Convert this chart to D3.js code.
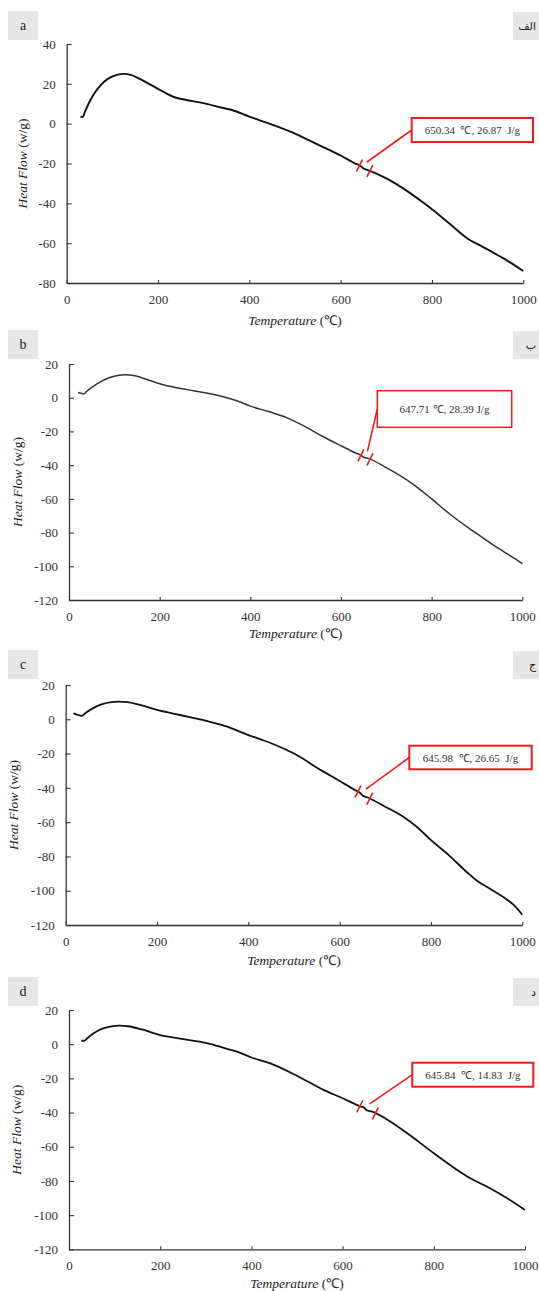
<!DOCTYPE html>
<html>
<head>
<meta charset="utf-8">
<script src="https://cdn.jsdelivr.net/npm/d3@7"></script>
<style>
  body { margin: 0; background: #fff; }
  svg { display: block; }
</style>
</head>
<body>
<svg id="chart" width="539" height="1291"></svg>
<script>
// ---- data ----
const tempA = [30, 35, 40, 50, 60, 75, 90, 110, 125, 140, 160, 180, 200, 220, 240, 260, 300, 340, 360, 400, 450, 500, 550, 600, 630, 645, 650, 660, 700, 740, 780, 800, 840, 880, 900, 940, 970, 1000];
const heatA = [3.5, 3.3, 6, 11, 15, 19.5, 22.5, 24.5, 25, 24.5, 22.5, 20, 17.5, 15, 13, 12, 10.3, 8, 7, 3.5, -0.5, -5, -10.5, -16, -19.8, -21.5, -22.5, -23.3, -27.5, -33, -39.5, -43, -50.5, -58, -60.5, -65.5, -69.5, -74];

const tempB = [20, 27, 32, 40, 55, 70, 90, 110, 125, 145, 170, 200, 230, 260, 300, 340, 370, 400, 440, 480, 520, 560, 600, 630, 645, 650, 660, 700, 760, 800, 840, 885, 910, 945, 975, 1000];
const heatB = [3.1, 2.6, 2.2, 4, 7, 9.5, 12, 13.3, 13.6, 13, 11, 8.3, 6.3, 4.8, 3, 0.6, -1.8, -5, -8.2, -11.8, -17, -23, -28.5, -32.5, -34.3, -35.3, -36, -41.5, -51.5, -60, -69, -78, -82.5, -89, -94, -98.5];

const tempC = [17, 25, 35, 45, 60, 80, 100, 115, 135, 160, 200, 250, 300, 350, 400, 430, 450, 500, 560, 600, 635, 645, 650, 660, 700, 740, 770, 800, 840, 880, 900, 930, 960, 980, 1000];
const heatC = [3.5, 2.7, 2, 4, 6.5, 8.8, 10, 10.3, 10, 8.5, 5.5, 2.5, -0.4, -4, -9.2, -12, -14, -20, -29.8, -36, -41.5, -43, -44.5, -45.5, -51, -57, -63, -70.5, -79.5, -89.5, -94, -99, -104, -108, -114];

const tempD = [27, 33, 40, 55, 70, 90, 110, 130, 160, 200, 250, 300, 350, 370, 400, 440, 500, 558, 600, 638, 648, 652, 665, 700, 741, 800, 840, 880, 916, 960, 1000];
const heatD = [2.1, 2, 3.5, 6.5, 8.8, 10.3, 10.9, 10.5, 8.6, 5.3, 3, 0.8, -3, -4.5, -7.8, -11.1, -18.5, -26.7, -31.6, -36.3, -37.3, -38.5, -39.5, -44.5, -52, -63.8, -71.5, -78.4, -83.3, -90, -97];

const xTicks = [0, 200, 400, 600, 800, 1000];
const yTicksA = [-80, -60, -40, -20, 0, 20, 40];
const yTicksBCD = [-120, -100, -80, -60, -40, -20, 0, 20];

const panelLetters = ["a", "b", "c", "d"];
const panelArabic = ["الف", "ب", "ج", "د"];
const annotationText = ["650.34  ℃, 26.87  J/g", "647.71 ℃, 28.39 J/g", "645.98  ℃, 26.65  J/g", "645.84  ℃, 14.83  J/g"];
const slashTemps = [[641, 664], [644, 664], [640, 666], [638, 672]];

// ---- layout ----
const serif = '"Liberation Serif", "Times New Roman", serif';
const panels = [
  {temp: tempA, heat: heatA, yTicks: yTicksA, left: 66.7, right: 523.3, top: 44, bottom: 283,
   box: {x: 411.7, y: 118, w: 121.3, h: 24}, tag: {y: 11}, yTitleX: 27, xTitleDy: 42, stroke: "#111", sw: 1.9, boxSw: 2},
  {temp: tempB, heat: heatB, yTicks: yTicksBCD, left: 69, right: 522.3, top: 364, bottom: 600,
   box: {x: 377.3, y: 390.7, w: 134.4, h: 36.6}, tag: {y: 330}, yTitleX: 22, xTitleDy: 38, stroke: "#333", sw: 1.5, boxSw: 1.5},
  {temp: tempC, heat: heatC, yTicks: yTicksBCD, left: 65.7, right: 522.3, top: 685, bottom: 925,
   box: {x: 409.3, y: 745.7, w: 122.4, h: 23.6}, tag: {y: 650}, yTitleX: 18, xTitleDy: 40, stroke: "#111", sw: 1.8, boxSw: 2},
  {temp: tempD, heat: heatD, yTicks: yTicksBCD, left: 69, right: 525, top: 1010, bottom: 1249.3,
   box: {x: 412.3, y: 1062.7, w: 121, h: 24}, tag: {y: 977}, yTitleX: 21, xTitleDy: 39, stroke: "#111", sw: 1.8, boxSw: 2}
];

const svg = d3.select("#chart");
const red = "#f01c1c";

panels.forEach((p, i) => {
  const x = d3.scaleLinear().domain([0, 1000]).range([p.left, p.right]);
  const y = d3.scaleLinear().domain([d3.min(p.yTicks), d3.max(p.yTicks)]).range([p.bottom, p.top]);
  const g = svg.append("g");

  // panel tags
  g.append("rect").attr("x", 8).attr("y", p.tag.y).attr("width", 30).attr("height", 29).attr("fill", "#e7e7e7");
  g.append("text").attr("x", 23).attr("y", p.tag.y + 19).attr("text-anchor", "middle")
    .style("font-family", serif).attr("font-size", 14).attr("fill", "#222").text(panelLetters[i]);
  g.append("rect").attr("x", 513).attr("y", p.tag.y + 1).attr("width", 30).attr("height", 28).attr("fill", "#e7e7e7");
  g.append("text").attr("x", 536).attr("y", p.tag.y + 19).attr("text-anchor", "end")
    .style("font-family", '"DejaVu Sans", sans-serif').attr("font-size", 11).attr("fill", "#222")
    .text(panelArabic[i]);

  // axes
  const xAxis = d3.axisBottom(x).tickValues(xTicks).tickSizeInner(-3).tickSizeOuter(0).tickPadding(9).tickFormat(d => String(d));
  const yAxis = d3.axisLeft(y).tickValues(p.yTicks).tickSizeInner(-5).tickSizeOuter(0).tickPadding(11).tickFormat(d => String(d));

  const gx = g.append("g").attr("transform", `translate(0,${p.bottom})`).call(xAxis);
  const gy = g.append("g").attr("transform", `translate(${p.left},0)`).call(yAxis);
  [gx, gy].forEach(ax => {
    ax.select(".domain").attr("stroke", "#333").attr("stroke-width", 1.3);
    ax.selectAll(".tick line").attr("stroke", "#333").attr("stroke-width", 1.1);
    ax.selectAll(".tick text").style("font-family", serif).style("font-size", "13px").attr("fill", "#333");
  });
  gx.selectAll(".tick text").attr("dy", "0.9em");

  // axis titles
  const xt = g.append("text").attr("x", (p.left + p.right) / 2).attr("y", p.bottom + p.xTitleDy)
    .attr("text-anchor", "middle").style("font-family", serif).style("font-size", "13.5px").attr("fill", "#222");
  xt.append("tspan").attr("font-style", "italic").text("Temperature");
  xt.append("tspan").text(" (℃)");

  const yt = g.append("text").attr("transform", `translate(${p.yTitleX},${(p.top + p.bottom) / 2}) rotate(-90)`)
    .attr("text-anchor", "middle").style("font-family", serif).style("font-size", "13.5px").attr("fill", "#222");
  yt.append("tspan").attr("font-style", "italic").text("Heat Flow");
  yt.append("tspan").text(" (w/g)");

  // curve
  const pts = p.temp.map((t, k) => ({t: t, h: p.heat[k]}));
  const line = d3.line().x(d => x(d.t)).y(d => y(d.h)).curve(d3.curveMonotoneX);
  g.append("path").datum(pts).attr("d", line).attr("fill", "none")
    .attr("stroke", p.stroke).attr("stroke-width", p.sw).attr("stroke-linejoin", "round");

  // onset / endset marks
  const hAt = t => {
    const k = d3.bisector(d => d.t).left(pts, t);
    const a = pts[k - 1], b = pts[k];
    return a.h + (b.h - a.h) * (t - a.t) / (b.t - a.t);
  };
  const marks = slashTemps[i].map(t => ({cx: x(t), cy: y(hAt(t))}));
  g.selectAll(".slash").data(marks).join("line")
    .attr("x1", d => d.cx - 3).attr("y1", d => d.cy + 6)
    .attr("x2", d => d.cx + 3).attr("y2", d => d.cy - 6)
    .attr("stroke", red).attr("stroke-width", 1.6);

  // annotation box + leader
  const mx = (marks[0].cx + marks[1].cx) / 2 + 2;
  const my = (marks[0].cy + marks[1].cy) / 2 - 6;
  g.append("line").attr("x1", p.box.x).attr("y1", p.box.y + p.box.h / 2).attr("x2", mx).attr("y2", my)
    .attr("stroke", red).attr("stroke-width", 1.6);
  g.append("rect").attr("x", p.box.x).attr("y", p.box.y).attr("width", p.box.w).attr("height", p.box.h)
    .attr("fill", "#fff").attr("stroke", red).attr("stroke-width", p.boxSw);
  g.append("text").attr("x", p.box.x + p.box.w / 2).attr("y", p.box.y + p.box.h / 2 + 4)
    .attr("text-anchor", "middle").style("font-family", serif).style("font-size", "11px").attr("fill", "#333")
    .style("white-space", "pre").text(annotationText[i]);
});
</script>
</body>
</html>
